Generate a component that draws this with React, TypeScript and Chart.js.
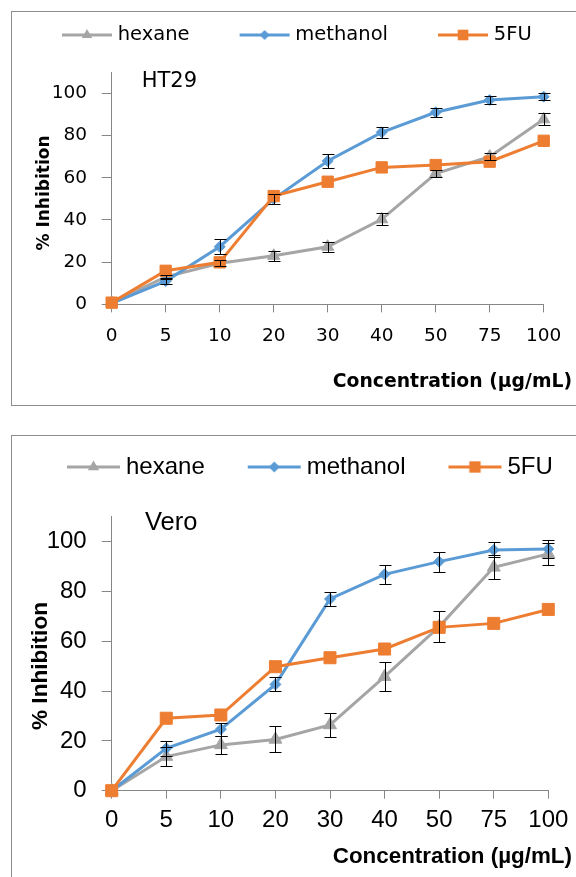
import React, { useEffect, useRef } from 'react';
import { Chart, registerables } from 'chart.js';

Chart.register(...registerables);

// ---------------- data ----------------
const concentrations = ['0', '5', '10', '20', '30', '40', '50', '75', '100'];
const seriesNames = ['hexane', 'methanol', '5FU'];
const yAxisMax = 110;
const yTickMax = 100;
const yTickStep = 20;
const xAxisTitle = 'Concentration (µg/mL)';
const yAxisTitle = '% Inhibition';

// HT29
const ht29Hexane = [0.8, 13, 19.5, 23, 27.3, 40.3, 62, 70, 87.7];
const ht29HexaneErr = [0, 1, 1.5, 2.5, 2.4, 2.8, 1.5, 1.5, 2.8];
const ht29Methanol = [0.5, 11, 27.3, 50, 67.9, 81.5, 91, 96.8, 98.4];
const ht29MethanolErr = [0, 1.5, 3.5, 2.5, 3.2, 2.5, 2, 2, 1.8];
const ht29FiveFU = [0.8, 15.9, 19.9, 51.3, 58.1, 64.9, 66, 67.6, 77.5];

// Vero
const veroHexane = [0, 13.7, 18.4, 20.6, 26.4, 45.8, 65.9, 89.7, 95.1];
const veroHexaneErr = [0, 3.8, 3.7, 5.2, 5, 5.8, 6.3, 4.8, 4.5];
const veroMethanol = [0, 17, 24.7, 42.7, 77, 86.9, 92, 96.7, 97.1];
const veroMethanolErr = [0, 3, 2.6, 2.8, 2.7, 3.8, 4, 3, 3.5];
const veroFiveFU = [0, 29.1, 30.4, 49.8, 53.4, 56.9, 65.6, 67.2, 72.8];

// ---------------- styles ----------------
const GRAY = '#A5A5A5';
const BLUE = '#5B9BD5';
const ORANGE = '#ED7D31';
const AXIS = '#868686';
const BORDER = '#8c8c8c';
const COLORS = [GRAY, BLUE, ORANGE];
const STYLES = ['triangle', 'rectRot', 'rect'];

function drawMarker(ctx: CanvasRenderingContext2D, style: string, cx: number, cy: number, r: number) {
  ctx.beginPath();
  if (style === 'triangle') {
    ctx.moveTo(cx, cy - r);
    ctx.lineTo(cx + 0.866 * r, cy + 0.5 * r);
    ctx.lineTo(cx - 0.866 * r, cy + 0.5 * r);
  } else if (style === 'rectRot') {
    ctx.moveTo(cx - r, cy);
    ctx.lineTo(cx, cy - r);
    ctx.lineTo(cx + r, cy);
    ctx.lineTo(cx, cy + r);
  } else {
    const s = r * Math.SQRT1_2;
    ctx.rect(cx - s, cy - s, 2 * s, 2 * s);
  }
  ctx.closePath();
  ctx.fill();
}

function makeLegendImage(color: string, style: string, w: number, h: number, x0: number, x1: number, r: number) {
  const c = document.createElement('canvas');
  c.width = w;
  c.height = h;
  const ctx = c.getContext('2d')!;
  ctx.strokeStyle = color;
  ctx.fillStyle = color;
  ctx.lineWidth = 3;
  ctx.beginPath();
  ctx.moveTo(x0, h / 2);
  ctx.lineTo(x1, h / 2);
  ctx.stroke();
  drawMarker(ctx, style, (x0 + x1) / 2, h / 2, r);
  return c;
}

const legendHeightPlugin = {
  id: 'legendHeight',
  beforeLayout(chart: any, _args: any, opts: any) {
    const lg = chart.legend;
    if (lg && !lg.__patched) {
      const orig = lg.fit;
      lg.fit = function () {
        orig.call(this);
        this.height = opts.height;
      };
      lg.__patched = true;
    }
  },
};

const errorBarPlugin = {
  id: 'errorBars',
  afterDatasetsDraw(chart: any, _args: any, opts: any) {
    const { ctx } = chart;
    const yScale = chart.scales.y;
    const cap = opts.cap || 6;
    ctx.save();
    ctx.strokeStyle = '#000';
    ctx.lineWidth = 1;
    chart.data.datasets.forEach((ds: any, di: number) => {
      const errs = ds.errors;
      if (!errs) return;
      const meta = chart.getDatasetMeta(di);
      meta.data.forEach((pt: any, i: number) => {
        const e = errs[i];
        if (!e) return;
        const v = ds.data[i];
        const x = Math.round(pt.x) + 0.5;
        const yt = Math.round(yScale.getPixelForValue(v + e)) + 0.5;
        const yb = Math.round(yScale.getPixelForValue(v - e)) + 0.5;
        ctx.beginPath();
        ctx.moveTo(x, yt);
        ctx.lineTo(x, yb);
        ctx.moveTo(x - cap, yt);
        ctx.lineTo(x + cap, yt);
        ctx.moveTo(x - cap, yb);
        ctx.lineTo(x + cap, yb);
        ctx.stroke();
      });
    });
    ctx.restore();
  },
};

const panelTextPlugin = {
  id: 'panelText',
  afterDraw(chart: any, _args: any, opts: any) {
    const { ctx, chartArea } = chart;
    ctx.save();
    ctx.fillStyle = '#000';
    ctx.font = opts.labelFont;
    ctx.textAlign = 'left';
    ctx.textBaseline = 'alphabetic';
    ctx.fillText(opts.label, chartArea.left + opts.labelDx, chartArea.top + opts.labelDy);
    ctx.font = opts.yTitleFont;
    ctx.textAlign = 'center';
    ctx.textBaseline = 'middle';
    ctx.translate(opts.yTitleX, opts.yTitleY);
    ctx.rotate(-Math.PI / 2);
    ctx.fillText(yAxisTitle, 0, 0);
    ctx.restore();
  },
};

type Panel = {
  label: string;
  hexane: number[];
  hexaneErr: number[];
  methanol: number[];
  methanolErr: number[];
  fivefu: number[];
  family: string;
  canvasHeight: number;
  tickSize: number;
  legendSize: number;
  xTitleSize: number;
  yTitleSize: number;
  labelSize: number;
  padLeft: number;
  padTop: number;
  padBottom: number;
  legendBoxW: number;
  legendHeight: number;
  legLine: [number, number];
  legMarkerR: number[];
  pointR: number[];
  yWidth: number;
  xHeight: number;
  xPadRight: number;
  yTickPad: number;
  xTickPad: number;
  yTitleX: number;
  yTitleY: number;
  labelDx: number;
  labelDy: number;
};

const TOP: Panel = {
  label: 'HT29',
  hexane: ht29Hexane,
  hexaneErr: ht29HexaneErr,
  methanol: ht29Methanol,
  methanolErr: ht29MethanolErr,
  fivefu: ht29FiveFU,
  family: "'DejaVu Sans', sans-serif",
  canvasHeight: 393,
  tickSize: 18.5,
  legendSize: 19.5,
  xTitleSize: 18.8,
  yTitleSize: 17,
  labelSize: 21,
  padLeft: 0,
  padTop: 7.25,
  padBottom: 12,
  legendBoxW: 90,
  legendHeight: 52.95,
  legLine: [49, 99],
  legMarkerR: [6, 5, 7.5],
  pointR: [7, 5.5, 8],
  yWidth: 99.7,
  xHeight: 66.1,
  xPadRight: 32.3,
  yTickPad: 14.7,
  xTickPad: 13,
  yTitleX: 32.5,
  yTitleY: 181,
  labelDx: 30,
  labelDy: 15.1,
};

const BOTTOM: Panel = {
  label: 'Vero',
  hexane: veroHexane,
  hexaneErr: veroHexaneErr,
  methanol: veroMethanol,
  methanolErr: veroMethanolErr,
  fivefu: veroFiveFU,
  family: "'Liberation Sans', Arial, sans-serif",
  canvasHeight: 441,
  tickSize: 24,
  legendSize: 24,
  xTitleSize: 22.4,
  yTitleSize: 22.6,
  labelSize: 25.5,
  padLeft: 12,
  padTop: 13,
  padBottom: 6.56,
  legendBoxW: 84,
  legendHeight: 67.8,
  legLine: [45, 98],
  legMarkerR: [6.5, 5.5, 8],
  pointR: [7.5, 5.5, 8.5],
  yWidth: 87.7,
  xHeight: 52.86,
  xPadRight: 27.7,
  yTickPad: 15,
  xTickPad: 7.7,
  yTitleX: 28.3,
  yTitleY: 230,
  labelDx: 33.3,
  labelDy: 13.2,
};

function buildChart(canvas: HTMLCanvasElement, p: Panel) {
  const images = COLORS.map((c, i) =>
    makeLegendImage(c, STYLES[i], 100, 20, p.legLine[0], p.legLine[1], p.legMarkerR[i])
  );
  const tickFont = { family: p.family, size: p.tickSize };
  const seriesData = [p.hexane, p.methanol, p.fivefu];
  const seriesErr = [p.hexaneErr, p.methanolErr, null];
  const datasets = seriesData.map((d, i) => ({
    label: seriesNames[i],
    data: d,
    errors: seriesErr[i],
    borderColor: COLORS[i],
    backgroundColor: COLORS[i],
    borderWidth: 3,
    pointStyle: STYLES[i],
    pointRadius: p.pointR[i],
    pointBorderWidth: 1,
    pointBackgroundColor: COLORS[i],
    pointBorderColor: COLORS[i],
    order: 3 - i,
    tension: 0,
    clip: false as any,
  }));

  return new Chart(canvas, {
    type: 'line',
    data: { labels: concentrations, datasets: datasets as any },
    options: {
      responsive: false,
      animation: false,
      events: [],
      layout: { padding: { left: p.padLeft, top: p.padTop, right: 4, bottom: p.padBottom } },
      scales: {
        x: {
          type: 'category',
          offset: false,
          grid: { drawOnChartArea: false, drawTicks: true, tickLength: 8, color: AXIS, lineWidth: 1 },
          border: { display: true, color: AXIS, width: 1 },
          ticks: {
            autoSkip: false,
            maxRotation: 0,
            minRotation: 0,
            padding: p.xTickPad,
            font: tickFont,
            color: '#000',
          },
          afterFit: (s: any) => {
            s.height = p.xHeight;
            s.paddingRight = p.xPadRight;
            s.paddingLeft = 0;
          },
        },
        y: {
          type: 'linear',
          bounds: 'data',
          min: 0,
          max: yAxisMax,
          grid: { drawOnChartArea: false, drawTicks: true, tickLength: 10, color: AXIS, lineWidth: 1 },
          border: { display: true, color: AXIS, width: 1 },
          ticks: {
            stepSize: yTickStep,
            includeBounds: false,
            autoSkip: false,
            padding: p.yTickPad,
            font: tickFont,
            color: '#000',
          },
          afterBuildTicks: (s: any) => {
            s.ticks = s.ticks.filter((t: any) => t.value <= yTickMax);
          },
          afterFit: (s: any) => {
            s.width = p.yWidth;
            s.paddingTop = 0;
            s.paddingBottom = 0;
          },
        },
      },
      plugins: {
        legend: {
          display: true,
          position: 'top',
          align: 'start',
          labels: {
            usePointStyle: true,
            pointStyleWidth: p.legendBoxW,
            padding: 6,
            color: '#000',
            font: { family: p.family, size: p.legendSize },
            generateLabels: (chart: any) =>
              chart.data.datasets.map((ds: any, i: number) => ({
                text: ds.label,
                pointStyle: images[i],
                fillStyle: COLORS[i],
                strokeStyle: COLORS[i],
                lineWidth: 0,
                hidden: false,
                datasetIndex: i,
                fontColor: '#000',
              })),
          },
        },
        title: {
          display: true,
          text: xAxisTitle,
          position: 'bottom',
          align: 'end',
          color: '#000',
          padding: 0,
          font: { family: p.family, size: p.xTitleSize, weight: 'bold', lineHeight: 1.2 },
        },
        tooltip: { enabled: false },
        legendHeight: { height: p.legendHeight },
        errorBars: { cap: 6 },
        panelText: {
          label: p.label,
          labelFont: `${p.labelSize}px ${p.family}`,
          labelDx: p.labelDx,
          labelDy: p.labelDy,
          yTitleFont: `bold ${p.yTitleSize}px ${p.family}`,
          yTitleX: p.yTitleX,
          yTitleY: p.yTitleY,
        },
      } as any,
    },
    plugins: [legendHeightPlugin, errorBarPlugin, panelTextPlugin] as any,
  });
}

function ChartPanel({ panel, top, height }: { panel: Panel; top: number; height: number }) {
  const ref = useRef<HTMLCanvasElement>(null);
  useEffect(() => {
    const chart = buildChart(ref.current!, panel);
    return () => chart.destroy();
  }, [panel]);
  return (
    <div
      style={{
        position: 'absolute',
        left: 11,
        top,
        width: 576,
        height,
        border: `1px solid ${BORDER}`,
        background: '#fff',
      }}
    >
      <canvas
        ref={ref}
        width={564}
        height={panel.canvasHeight}
        style={{ display: 'block', position: 'absolute', left: 0, top: 0 }}
      />
    </div>
  );
}

export default function App() {
  return (
    <div
      style={{
        position: 'absolute',
        left: 0,
        top: 0,
        width: 576,
        height: 877,
        overflow: 'hidden',
        background: '#fff',
      }}
    >
      <ChartPanel panel={TOP} top={11} height={393} />
      <ChartPanel panel={BOTTOM} top={435} height={460} />
    </div>
  );
}
